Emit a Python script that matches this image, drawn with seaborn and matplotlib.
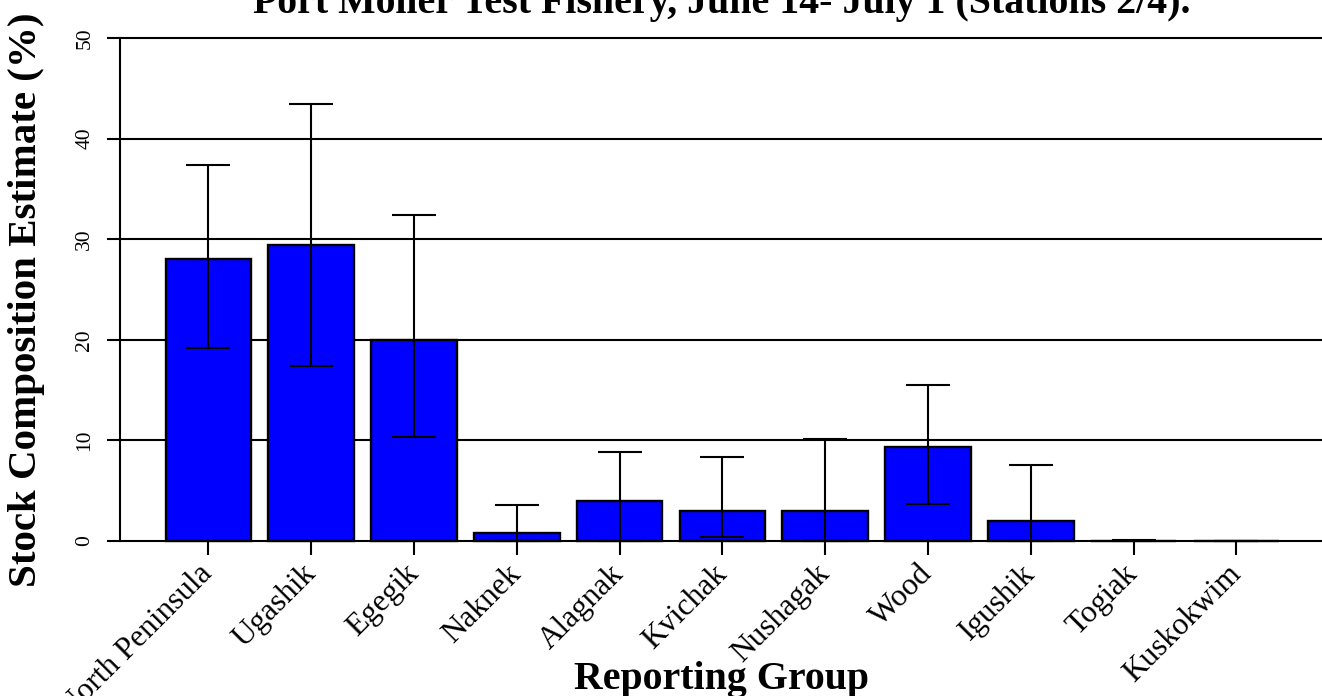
import numpy as np
import matplotlib
matplotlib.use("Agg")
import matplotlib.pyplot as plt
import seaborn as sns

groups = ["North Peninsula", "Ugashik", "Egegik", "Naknek", "Alagnak", "Kvichak",
          "Nushagak", "Wood", "Igushik", "Togiak", "Kuskokwim"]
estimate = [28.0, 29.4, 20.0, 0.8, 4.0, 3.0, 3.0, 9.3, 2.0, 0.0, 0.0]
lower = [19.2, 17.4, 10.3, 0.0, 0.0, 0.4, 0.0, 3.7, 0.0, 0.0, 0.0]
upper = [37.4, 43.4, 32.4, 3.6, 8.8, 8.3, 10.1, 15.5, 7.5, 0.1, 0.0]
y_ticks = [0, 10, 20, 30, 40, 50]

title = "Port Moller Test Fishery, June 14- July 1 (Stations 2/4)."
x_label = "Reporting Group"
y_label = "Stock Composition Estimate (%)"

sns.set_style("white")
plt.rcParams["font.family"] = ["Liberation Serif", "DejaVu Serif"]
plt.rcParams["text.color"] = "black"
plt.rcParams["xtick.color"] = "black"
plt.rcParams["ytick.color"] = "black"
plt.rcParams["axes.labelcolor"] = "black"

W, H = 1322, 696
fig = plt.figure(figsize=(W / 100, H / 100), dpi=100)
ax = fig.add_axes([120 / W, 135 / H, (W - 120) / W, 543 / H])

# horizontal reference lines behind the bars
for v in y_ticks:
    ax.axhline(v, color="black", lw=1.5, zorder=1)

sns.barplot(x=groups, y=estimate, color="#0000ff", saturation=1, width=0.833,
            edgecolor="black", linewidth=1.7, errorbar=None, ax=ax, zorder=3)

est = np.array(estimate)
yerr = [est - np.array(lower), np.array(upper) - est]
ax.errorbar(np.arange(len(groups)), est, yerr=yerr, fmt="none", ecolor="black",
            elinewidth=1.5, capsize=15.8, capthick=1.5, zorder=4)

ax.set_xlim(-0.860, 10.833)
ax.set_ylim(-2, 52)

for side in ["top", "right"]:
    ax.spines[side].set_visible(False)
ax.spines["bottom"].set_position(("data", 0))
ax.spines["bottom"].set_visible(False)
ax.spines["left"].set_bounds(0, 50)
ax.spines["left"].set_linewidth(1.5)
ax.spines["left"].set_color("black")

ax.set_yticks(y_ticks)
ax.set_yticklabels([str(t) for t in y_ticks], rotation=90, va="center", fontsize=15.5,
                   color="black")
ax.tick_params(axis="y", direction="out", length=9.5, width=1.5, pad=9, left=True,
               colors="black")

ax.set_xticks(np.arange(len(groups)))
ax.set_xticklabels(groups, rotation=45, ha="right", va="center",
                   rotation_mode="anchor", fontsize=22.5, color="black")
ax.tick_params(axis="x", direction="out", length=10, width=1.5, pad=10.5, bottom=True,
               colors="black")
ax.set_xlabel("")
ax.set_ylabel("")

fig.text(722 / W, 1 - 13.5 / H, title, ha="center", va="baseline",
         fontsize=28.7, fontweight="bold", color="black")
fig.text(722 / W, 1 - 689 / H, x_label, ha="center", va="baseline",
         fontsize=28.7, fontweight="bold", color="black")
fig.text(27 / W, 1 - 300 / H, y_label, ha="center", va="center", rotation=90,
         fontsize=29.5, fontweight="bold", color="black")

fig.savefig("out.png", dpi=100)
